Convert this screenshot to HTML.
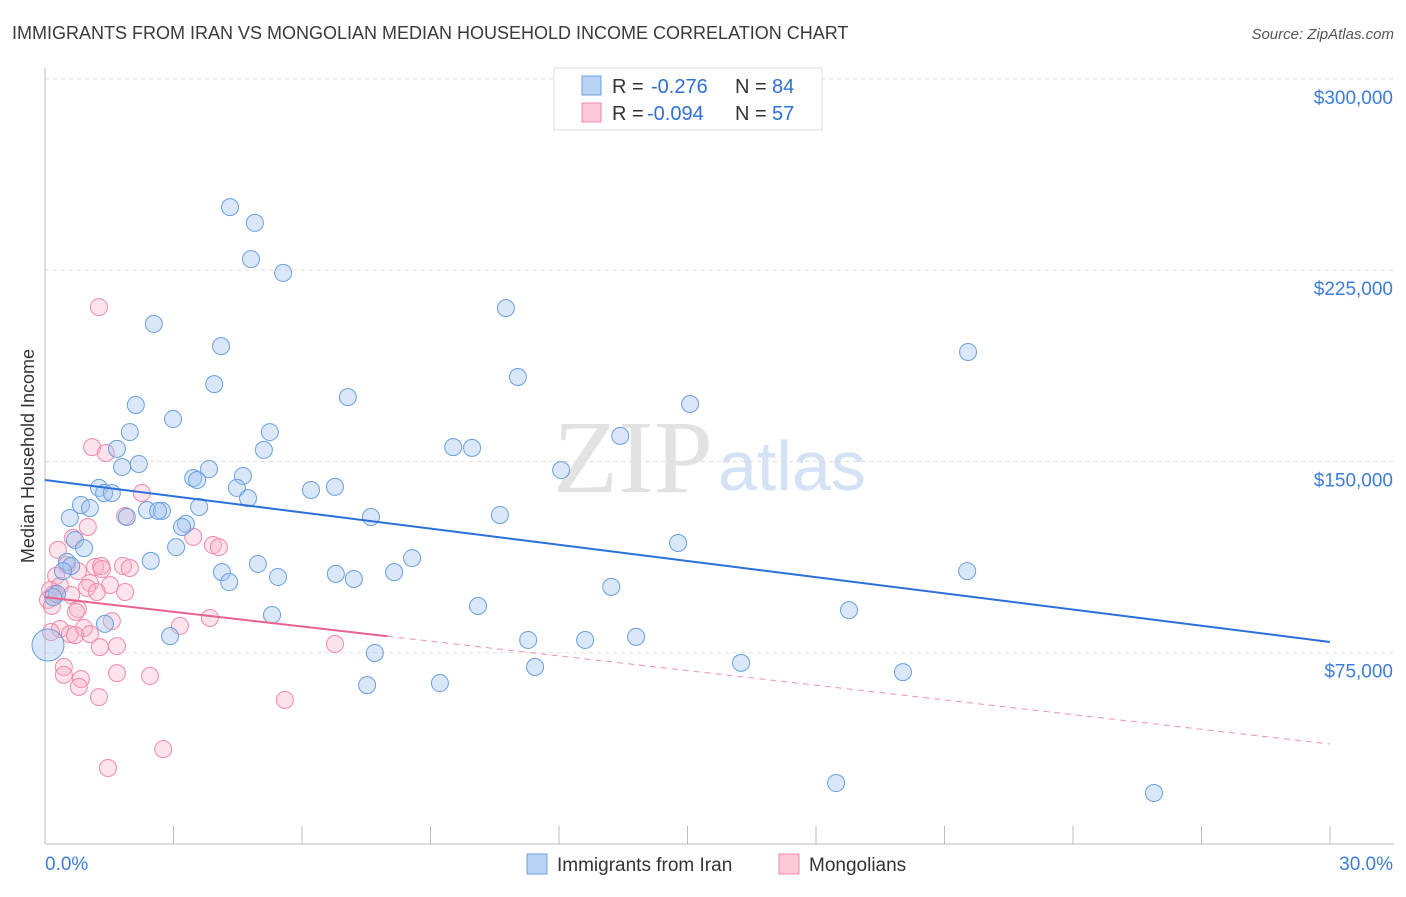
<!DOCTYPE html>
<html><head><meta charset="utf-8"><style>
body{margin:0;background:#fff;font-family:"Liberation Sans",sans-serif}
svg text{font-family:"Liberation Sans",sans-serif}
</style></head><body>
<svg id="chart" width="1406" height="892" xmlns="http://www.w3.org/2000/svg">
<text x="12" y="39" font-size="18" fill="#3a3a3a">IMMIGRANTS FROM IRAN VS MONGOLIAN MEDIAN HOUSEHOLD INCOME CORRELATION CHART</text>
<text x="1394" y="39" font-size="15" fill="#555" text-anchor="end" font-style="italic">Source: ZipAtlas.com</text>
<text x="553" y="492" font-size="104" fill="#e2e2e2" style="font-family:'Liberation Serif',serif" textLength="160" lengthAdjust="spacingAndGlyphs">ZIP</text>
<text x="718" y="490" font-size="70" fill="#d4e2f5">atlas</text>
<g id="grid"></g>
<g id="axes"></g>
<g id="marks"></g>
<text transform="translate(34,456) rotate(-90)" font-size="18" fill="#333" text-anchor="middle">Median Household Income</text>
<g>
<rect x="554" y="68" width="268" height="62" fill="#fff" stroke="#ddd"/>
<rect x="582" y="76" width="19" height="19" fill="#b9d3f5" stroke="#6a9fe0"/>
<text x="612" y="93" font-size="20" fill="#333">R =</text>
<text x="651" y="93" font-size="20" fill="#2f6fd6">-0.276</text>
<text x="735" y="93" font-size="20" fill="#333">N =</text>
<text x="772" y="93" font-size="20" fill="#2f6fd6">84</text>
<rect x="582" y="103" width="19" height="19" fill="#fbc9d7" stroke="#f08aa8"/>
<text x="612" y="120" font-size="20" fill="#333">R =</text>
<text x="647" y="120" font-size="20" fill="#2f6fd6">-0.094</text>
<text x="735" y="120" font-size="20" fill="#333">N =</text>
<text x="772" y="120" font-size="20" fill="#2f6fd6">57</text>
</g>
<g>
<rect x="527" y="854" width="20" height="20" fill="#b9d3f5" stroke="#6a9fe0"/>
<text x="557" y="871" font-size="19" fill="#333">Immigrants from Iran</text>
<rect x="779" y="854" width="20" height="20" fill="#fbc9d7" stroke="#f08aa8"/>
<text x="809" y="871" font-size="19" fill="#333">Mongolians</text>
</g>
</svg>
<script>
const iranX=[4.32,4.90,4.81,5.56,2.54,10.76,4.11,21.55,3.95,11.04,7.07,2.12,15.06,2.99,1.98,5.25,13.43,1.68,5.11,9.53,9.97,2.19,1.80,12.05,3.83,3.46,3.55,4.62,4.48,6.77,6.21,1.26,1.38,1.56,4.74,0.84,1.05,2.38,2.73,2.64,3.60,10.62,1.91,7.61,0.58,3.29,3.20,14.78,3.06,0.70,0.91,4.97,2.47,8.57,0.51,0.61,0.42,4.13,5.44,6.79,7.21,8.15,4.30,13.22,21.53,0.28,0.19,10.11,18.77,5.30,1.40,11.28,12.61,13.80,2.92,7.70,0.07,16.25,11.44,20.03,7.52,9.22,18.47,25.89];
const iranY=[249.7,243.5,229.3,223.9,203.9,210.1,195.2,192.9,180.3,183.1,175.2,172.1,172.5,166.6,161.5,161.5,160.0,154.9,154.5,155.6,155.3,149.0,147.8,146.6,147.0,143.5,142.7,144.3,139.6,140.0,138.8,139.6,137.6,137.6,135.6,132.9,131.7,130.9,130.6,130.6,132.1,129.0,128.2,128.2,127.8,125.5,124.3,118.0,116.4,119.2,116.0,109.8,111.0,112.1,110.6,109.0,107.0,106.6,104.7,105.9,103.9,106.6,102.7,100.8,107.0,98.0,96.8,93.3,91.7,89.8,86.3,80.0,80.0,81.2,81.5,74.9,78.0,71.0,69.4,67.4,62.3,63.1,23.9,20.0];
const mongX=[1.26,1.10,1.42,2.26,1.87,1.00,3.46,0.65,3.92,4.06,0.30,0.51,1.17,1.31,1.82,1.98,0.77,1.33,0.26,1.05,0.35,1.52,0.98,0.12,0.21,0.61,1.21,1.87,0.07,0.16,0.77,0.72,1.56,3.85,3.15,0.35,0.91,1.05,0.58,0.14,0.70,1.28,1.68,6.77,0.44,0.84,0.44,1.68,2.45,0.79,1.26,5.60,2.76,1.47];
const mongY=[210.5,155.6,153.3,137.6,128.6,124.3,120.4,120.0,117.2,116.4,115.3,109.4,108.6,109.0,109.0,108.2,107.0,107.8,105.1,102.3,101.2,101.5,100.4,99.6,98.0,97.6,98.8,98.8,95.7,93.3,92.1,91.0,87.4,88.6,85.5,84.3,84.7,82.3,82.3,83.1,81.9,77.2,77.6,78.4,69.4,64.7,66.3,67.0,65.9,61.6,57.6,56.5,37.2,29.8];
const yTicks=[75,150,225,300];
const yTickLabels=["$75,000","$150,000","$225,000","$300,000"];
const iranTrend=[142.7,79.2];
const mongTrend=[96.8,39.2];
const mongSolidEnd=8.0;

const NS="http://www.w3.org/2000/svg";
const X0=45,X1=1330,YB=844,PX_PER_K=191.3/75;
const sx=v=>X0+(v/30)*(X1-X0);
const sy=v=>YB-v*PX_PER_K;
function mk(tag,attrs,parent){const e=document.createElementNS(NS,tag);for(const k in attrs)e.setAttribute(k,attrs[k]);parent.appendChild(e);return e;}
const grid=document.getElementById('grid'),axes=document.getElementById('axes'),marks=document.getElementById('marks');
yTicks.forEach((t,i)=>{
  const l=mk('line',{x1:X0,x2:1394,y1:sy(t),y2:sy(t),stroke:'#ddd','stroke-dasharray':'4,4'},grid);
  
  
  const tx=mk('text',{x:1393,y:sy(t)+25,'font-size':19,fill:'#3b7ddd','text-anchor':'end'},axes);
  tx.textContent=yTickLabels[i];
  
  
});
const ax=mk('line',{x1:X0,x2:X0,y1:68,y2:YB,stroke:'#bbb'},axes);


const bx=mk('line',{x1:X0,x2:1394,y1:YB,y2:YB,stroke:'#bbb'},axes);


for(let i=0;i<=10;i++){
  const t=mk('line',{x1:sx(i*3),x2:sx(i*3),y1:826,y2:YB,stroke:'#bbb'},axes);
  
  
}
const xl=mk('text',{x:45,y:870,'font-size':19,fill:'#3b7ddd'},axes);xl.textContent='0.0%';


const xr=mk('text',{x:1393,y:870,'font-size':19,fill:'#3b7ddd','text-anchor':'end'},axes);xr.textContent='30.0%';



mongX.forEach((x,i)=>{
  const c=mk('circle',{cx:sx(x),cy:sy(mongY[i]),r:8.5,fill:'rgba(248,175,198,0.35)',stroke:'#f08aa8','stroke-width':1},marks);
  
  
});
iranX.forEach((x,i)=>{
  const big=(i===76);
  const c=mk('circle',{cx:sx(x),cy:sy(iranY[i]),r:big?16:8.5,fill:'rgba(160,196,240,0.4)',stroke:'#6a9fe0','stroke-width':1},marks);
  
  
});
const tl=mk('line',{x1:sx(0),y1:sy(iranTrend[0]),x2:sx(30),y2:sy(iranTrend[1]),stroke:'#2b6fd9','stroke-width':2},marks);


const mAt=x=>mongTrend[0]+(mongTrend[1]-mongTrend[0])*x/30;
const ml=mk('line',{x1:sx(0),y1:sy(mongTrend[0]),x2:sx(mongSolidEnd),y2:sy(mAt(mongSolidEnd)),stroke:'#e8638c','stroke-width':2},marks);


const md=mk('line',{x1:sx(mongSolidEnd),y1:sy(mAt(mongSolidEnd)),x2:sx(30),y2:sy(mongTrend[1]),stroke:'#e8638c','stroke-width':1,'stroke-dasharray':'6,5',opacity:0.7},marks);


</script>
</body></html>
